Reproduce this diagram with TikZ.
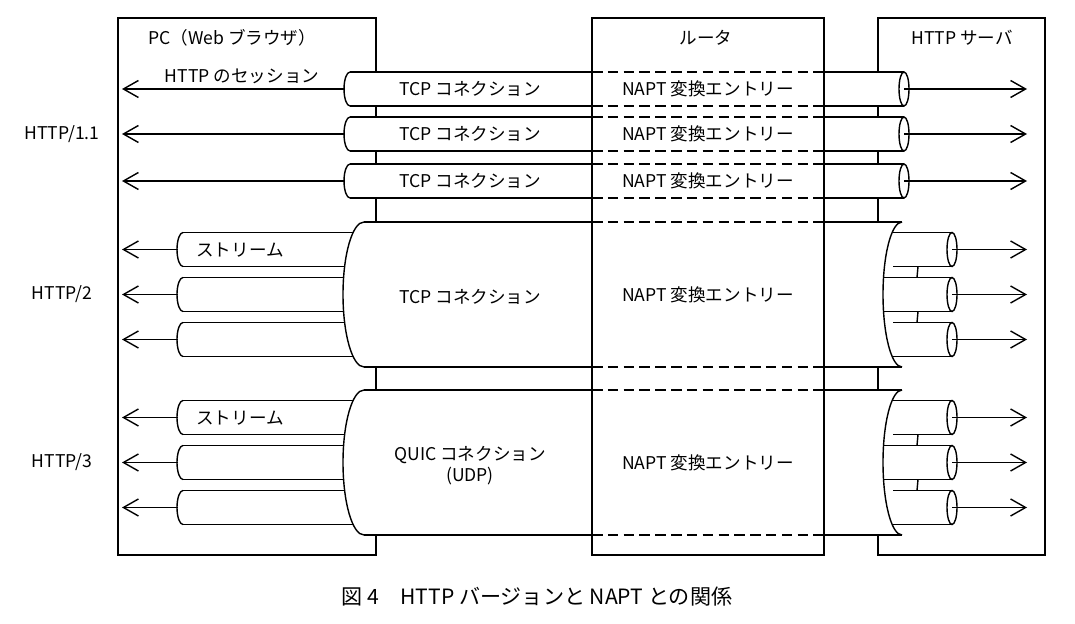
\documentclass[tikz,border=0pt]{standalone}
\usepackage{fontspec}
\setmainfont{Noto Sans CJK JP}
\usetikzlibrary{arrows.meta}
\tikzstyle{frame}=[draw=black, thick]
\tikzstyle{pipe}=[draw=black, thick]
\tikzstyle{flow}=[draw=black, thick, -{Straight Barb[length=3mm,width=3.4mm]}]
\tikzstyle{nat}=[draw=black, thick, dash pattern=on 6pt off 3pt]
\tikzstyle{lbl}=[font=\fontsize{10}{12}\selectfont, inner sep=1pt]
% left cap of a thin tube: centre y, x left, x right
\newcommand{\tube}[3]{%
  \pgfmathsetmacro{\ta}{#1-17}\pgfmathsetmacro{\tb}{#1+17}%
  \fill[white] (#3,\ta) -- (#2,\ta) arc[start angle=270,end angle=90,x radius=6,y radius=17] -- (#3,\tb) -- cycle;
  \draw[pipe] (#2,\ta) arc[start angle=270,end angle=90,x radius=6,y radius=17];
}
\begin{document}
\begin{tikzpicture}[x=0.02cm,y=-0.02cm]
  \useasboundingbox (0,0) rectangle (1075,624);
  % boxes
  \draw[frame] (118,18) rectangle (376,555);
  \draw[frame] (592,18) rectangle (824,555);
  \draw[frame] (878,18) rectangle (1045,555);
  \node (pc) [lbl] at (232,38) {PC（Web ブラウザ）};
  \node (rt) [lbl] at (706,38) {ルータ};
  \node (sv) [lbl] at (962,38) {HTTP サーバ};

  % HTTP/1.1
  \node (v1) [lbl] at (62,134) {HTTP/1.1};
  \node (ses) [lbl] at (242,76) {HTTP のセッション};
  \foreach \yc/\nm in {89/a,134/b,181/c} {
    \pgfmathsetmacro{\ya}{\yc-17}
    \pgfmathsetmacro{\yb}{\yc+17}
    \tube{\yc}{350}{904}
    \draw[pipe] (350,\ya) -- (592,\ya) (824,\ya) -- (904,\ya);
    \draw[pipe] (350,\yb) -- (592,\yb) (824,\yb) -- (904,\yb);
    \draw[nat] (592,\ya) -- (824,\ya) (592,\yb) -- (824,\yb);
    \draw[pipe, fill=white] (904,\yc) ellipse (5 and 17);
    \coordinate (l\nm) at (345,\yc);
    \coordinate (r\nm) at (904,\yc);
    \coordinate (pl\nm) at (122,\yc);
    \coordinate (pr\nm) at (1027,\yc);
    \draw[flow] (l\nm) -- (pl\nm);
    \draw[flow] (r\nm) -- (pr\nm);
    \node (tcp\nm) [lbl] at (470,\yc) {TCP コネクション};
    \node (nat\nm) [lbl] at (708,\yc) {NAPT 変換エントリー};
  }

  % HTTP/2 and HTTP/3
  \foreach \yt/\ver/\k in {222/2/m,390/3/q} {
    \pgfmathsetmacro{\ym}{\yt+72.5}
    \pgfmathsetmacro{\yb}{\yt+145}
    \node (v\k) [lbl] at (62,\ym) {HTTP/\ver};
    % streams on the PC side
    \foreach \d/\s in {-45/1,0/2,45/3} {
      \pgfmathsetmacro{\yc}{\ym+\d}
      \pgfmathsetmacro{\ya}{\yc-17}
      \pgfmathsetmacro{\yd}{\yc+17}
      \tube{\yc}{183}{372}
      \draw[pipe] (183,\ya) -- (372,\ya) (183,\yd) -- (372,\yd);
      \coordinate (s\k\s) at (178,\yc);
      \coordinate (p\k\s) at (122,\yc);
      \draw[flow] (s\k\s) -- (p\k\s);
    }
    % connection
    \fill[white] (364,\yt) arc[start angle=270,end angle=90,x radius=21,y radius=72.5]
      -- (902,\yb) arc[start angle=90,end angle=270,x radius=19,y radius=72.5] -- cycle;
    \draw[pipe] (364,\yt) arc[start angle=270,end angle=90,x radius=21,y radius=72.5];
    \draw[pipe] (902,\yt) arc[start angle=270,end angle=90,x radius=19,y radius=72.5];
    \draw[pipe] (364,\yt) -- (592,\yt) (824,\yt) -- (902,\yt);
    \draw[pipe] (364,\yb) -- (592,\yb) (824,\yb) -- (902,\yb);
    \draw[nat] (592,\yt) -- (824,\yt) (592,\yb) -- (824,\yb);
    \node (nat\k) [lbl] at (708,\ym) {NAPT 変換エントリー};
    % streams on the server side
    \foreach \d/\s/\xa in {-45/1/893,0/2/884,45/3/893} {
      \pgfmathsetmacro{\yc}{\ym+\d}
      \pgfmathsetmacro{\ya}{\yc-17}
      \pgfmathsetmacro{\yd}{\yc+17}
      \draw[pipe] (\xa,\ya) -- (952,\ya) (\xa,\yd) -- (952,\yd);
      \draw[pipe, fill=white] (952,\yc) ellipse (5 and 17);
      \coordinate (e\k\s) at (952,\yc);
      \coordinate (f\k\s) at (1027,\yc);
      \draw[flow] (e\k\s) -- (f\k\s);
    }
    \pgfmathsetmacro{\ga}{\ym-28}\pgfmathsetmacro{\gb}{\ym-17}
    \pgfmathsetmacro{\gc}{\ym+17}\pgfmathsetmacro{\gd}{\ym+28}
    \draw[pipe] (918,\ga) -- (917,\gb) (918,\gc) -- (917,\gd);
  }
  \node (stm) [lbl] at (240,250) {ストリーム};
  \node (stq) [lbl] at (240,418) {ストリーム};
  \node (tcpm) [lbl] at (470,297) {TCP コネクション};
  \node (quic) [lbl, align=center] at (470,466) {QUIC コネクション\\(UDP)};

  % router edges run through the tubes
  \draw[frame] (592,18) -- (592,555) (824,18) -- (824,555);

  \node (cap) [font=\fontsize{12}{14}\selectfont] at (537,597) {図 4\quad HTTP バージョンと NAPT との関係};
\end{tikzpicture}
\end{document}
